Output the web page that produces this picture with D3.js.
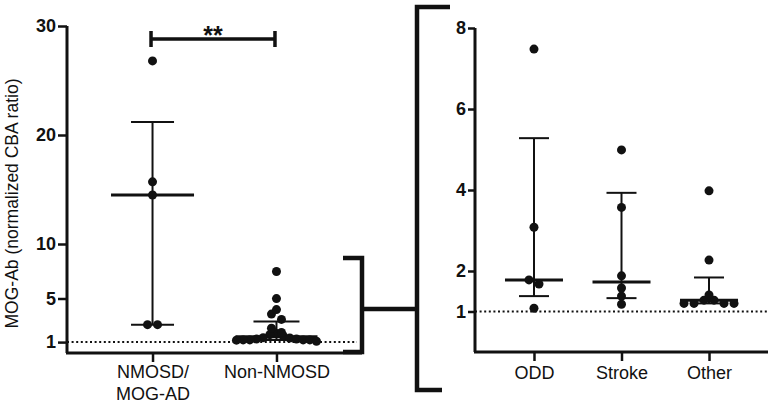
<!DOCTYPE html>
<html>
<head>
<meta charset="utf-8">
<script src="https://cdn.jsdelivr.net/npm/d3@7"></script>
<style>
  html, body { margin: 0; padding: 0; background: #fff; }
  svg { display: block; font-family: "Liberation Sans", Arial, Helvetica, sans-serif; }
</style>
</head>
<body>
<svg id="chart" width="774" height="404"></svg>
<script>
// ---------------- data ----------------
const leftCategories = ["NMOSD/MOG-AD", "Non-NMOSD"];
const leftLabelLines = [["NMOSD/", "MOG-AD"], ["Non-NMOSD"]];
const nmosdValues = [26.8, 15.7, 14.5, 2.6, 2.6];
const nonNmosdValues = [7.48, 4.99, 3.98, 3.57, 3.08, 2.27, 1.88, 1.78, 1.68, 1.58,
                        1.41, 1.38, 1.28, 1.28, 1.2, 1.2, 1.2, 1.2, 1.18, 1.08];
const leftMedian = [14.5, 1.5];
const leftQ1 = [2.6, 1.2];
const leftQ3 = [21.2, 2.9];
const leftTicks = [1, 5, 10, 20, 30];

const rightCategories = ["ODD", "Stroke", "Other"];
const oddValues = [7.48, 3.08, 1.78, 1.68, 1.08];
const strokeValues = [4.99, 3.57, 1.88, 1.58, 1.38, 1.18];
const otherValues = [3.98, 2.27, 1.41, 1.28, 1.28, 1.2, 1.2, 1.2, 1.2];
const rightMedian = [1.78, 1.73, 1.28];
const rightQ1 = [1.38, 1.33, 1.2];
const rightQ3 = [5.28, 3.93, 1.84];
const rightTicks = [1, 2, 4, 6, 8];

const thresholdValue = 1;
const yAxisTitle = "MOG-Ab (normalized CBA ratio)";
const sigLabel = "**";
const sigValue = 28.8;

// ---------------- setup ----------------
const svg = d3.select("#chart");
const ink = "#111";

const yL = d3.scaleLinear().domain([0, 30]).range([353, 26]);
const xL = d3.scalePoint().domain(leftCategories).range([67, 362]).padding(0.69);
const yR = d3.scaleLinear().domain([0, 8]).range([352, 28]);
const xR = d3.scalePoint().domain(rightCategories).range([475, 768]).padding(0.674);

// swarm layout: bin close values into rows, spread each row centered
function swarm(values, y, binPx = 8, step = 10, maxWidth = 80) {
  const sorted = values.slice().sort((a, b) => a - b);
  const bins = [];
  let cur = null;
  sorted.forEach(v => {
    if (!cur || Math.abs(y(cur[0]) - y(v)) > binPx) { cur = [v]; bins.push(cur); }
    else cur.push(v);
  });
  const out = [];
  bins.forEach(bin => {
    const n = bin.length;
    const s = n > 1 ? Math.min(step, maxWidth / (n - 1)) : 0;
    const offs = d3.range(n).map(i => (i - (n - 1) / 2) * s)
      .sort((a, b) => Math.abs(a) - Math.abs(b) || a - b);
    const desc = bin.slice().sort((a, b) => b - a);
    desc.forEach((v, i) => out.push({ v, dx: offs[i] }));
  });
  return out;
}

function drawGroup(g, xPos, y, values, med, q1, q3, medHalf, capHalf) {
  g.append("line").attr("x1", xPos).attr("x2", xPos)
    .attr("y1", y(q1)).attr("y2", y(q3))
    .attr("stroke", ink).attr("stroke-width", 2);
  [q1, q3].forEach(q => {
    g.append("line").attr("x1", xPos - capHalf).attr("x2", xPos + capHalf)
      .attr("y1", y(q)).attr("y2", y(q))
      .attr("stroke", ink).attr("stroke-width", 2);
  });
  g.append("line").attr("x1", xPos - medHalf).attr("x2", xPos + medHalf)
    .attr("y1", y(med)).attr("y2", y(med))
    .attr("stroke", ink).attr("stroke-width", 3);
  g.selectAll(null).data(swarm(values, y)).enter().append("circle")
    .attr("cx", d => xPos + d.dx).attr("cy", d => y(d.v)).attr("r", 4.5)
    .attr("fill", ink);
}

function styleAxis(g) {
  g.select(".domain").attr("stroke", ink).attr("stroke-width", 3);
  g.selectAll(".tick line").attr("stroke", ink).attr("stroke-width", 2.5);
}

// ---------------- left panel ----------------
const gL = svg.append("g");
gL.append("line").attr("x1", 67).attr("x2", 357)
  .attr("y1", yL(thresholdValue)).attr("y2", yL(thresholdValue))
  .attr("stroke", ink).attr("stroke-width", 2).attr("stroke-dasharray", "2,2.6");

const ayL = gL.append("g").attr("transform", "translate(67,0)")
  .call(d3.axisLeft(yL).tickValues(leftTicks).tickSize(9).tickSizeOuter(0).tickPadding(2));
styleAxis(ayL);
ayL.selectAll(".tick text").attr("font-size", 18).attr("font-weight", "bold").attr("fill", ink)
  .attr("font-family", "Liberation Sans, Arial, sans-serif");
ayL.select(".domain").attr("d", `M0,${yL(30)}V${yL(0)}`);

const axL = gL.append("g").attr("transform", `translate(0,${yL(0)})`)
  .call(d3.axisBottom(xL).tickSize(9).tickSizeOuter(0).tickPadding(3).tickFormat(""));
styleAxis(axL);
axL.select(".domain").attr("d", `M66,0H362`);
axL.selectAll(".tick").each(function (d, i) {
  const t = d3.select(this).append("text").attr("fill", ink).attr("font-size", 18)
    .attr("text-anchor", "middle").attr("font-family", "Liberation Sans, Arial, sans-serif");
  leftLabelLines[i].forEach((line, j) => {
    t.append("tspan").attr("x", 0).attr("y", 25 + j * 22).text(line);
  });
});

drawGroup(gL, xL(leftCategories[0]), yL, nmosdValues, leftMedian[0], leftQ1[0], leftQ3[0], 41.5, 21.5);
drawGroup(gL, xL(leftCategories[1]), yL, nonNmosdValues, leftMedian[1], leftQ1[1], leftQ3[1], 41, 23);

// significance bar
const sx1 = xL(leftCategories[0]) - 1.5, sx2 = xL(leftCategories[1]) - 1.5, sy = yL(sigValue);
gL.append("path").attr("d", `M${sx1},${sy}H${sx2}M${sx1},${sy - 8}V${sy + 8}M${sx2},${sy - 8}V${sy + 8}`)
  .attr("stroke", ink).attr("stroke-width", 3.5).attr("fill", "none");
gL.append("text").attr("x", (sx1 + sx2) / 2).attr("y", sy + 5)
  .attr("text-anchor", "middle").attr("font-size", 25).attr("font-weight", "bold")
  .attr("fill", ink).text(sigLabel);

// y title
svg.append("text").attr("transform", `translate(18,${(yL(0) + yL(30)) / 2 + 14}) rotate(-90)`)
  .attr("text-anchor", "middle").attr("font-size", 17.5).attr("fill", ink).text(yAxisTitle);

// ---------------- brackets ----------------
svg.append("path")
  .attr("d", "M343,258H362V352H343M362,309H417M450,7H417V390H442")
  .attr("stroke", ink).attr("stroke-width", 4.5).attr("fill", "none");

// ---------------- right panel ----------------
const gR = svg.append("g");
gR.append("line").attr("x1", 475).attr("x2", 768)
  .attr("y1", yR(thresholdValue)).attr("y2", yR(thresholdValue))
  .attr("stroke", ink).attr("stroke-width", 2).attr("stroke-dasharray", "2,2.6");

const ayR = gR.append("g").attr("transform", "translate(475,0)")
  .call(d3.axisLeft(yR).tickValues(rightTicks).tickSize(7).tickSizeOuter(0).tickPadding(2));
styleAxis(ayR);
ayR.selectAll(".tick text").attr("font-size", 18).attr("font-weight", "bold").attr("fill", ink)
  .attr("font-family", "Liberation Sans, Arial, sans-serif");
ayR.select(".domain").attr("d", `M0,${yR(8)}V${yR(0)}`);

const axR = gR.append("g").attr("transform", `translate(0,${yR(0)})`)
  .call(d3.axisBottom(xR).tickSize(9).tickSizeOuter(0).tickPadding(5));
styleAxis(axR);
axR.select(".domain").attr("d", `M474,0H768`);
axR.selectAll(".tick text").attr("font-size", 18).attr("fill", ink)
  .attr("font-family", "Liberation Sans, Arial, sans-serif");

const rightSets = [oddValues, strokeValues, otherValues];
rightCategories.forEach((c, i) => {
  drawGroup(gR, xR(c), yR, rightSets[i], rightMedian[i], rightQ1[i], rightQ3[i], 29, 15);
});
</script>
</body>
</html>
